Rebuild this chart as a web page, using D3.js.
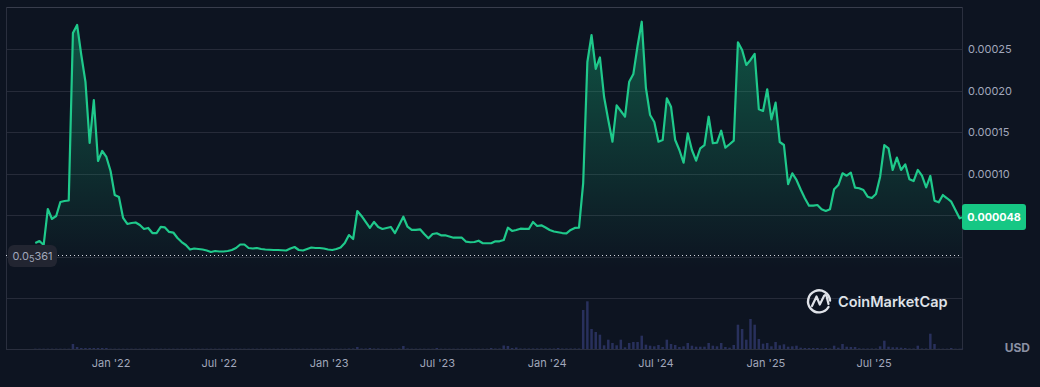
<!DOCTYPE html>
<html><head><meta charset="utf-8">
<style>
html,body{margin:0;padding:0;background:#0d1421;overflow:hidden}
svg{display:block}
text{font-family:Inter,"Noto Sans",sans-serif}
</style>
<script src="https://cdn.jsdelivr.net/npm/d3@7/dist/d3.min.js"></script>
</head><body><div id="chart"></div>
<script>
// Weekly closes in millionths of a USD, starting 2021-08-28
const priceMicroUSD = [
16.8,19.2,14.4,57.7,45.7,49.3,66.1,67.3,67.9,269.2,
278.9,242.8,210.4,137.0,188.7,115.4,127.4,120.2,103.4,74.5,
72.1,46.9,39.7,40.9,41.5,38.5,33.7,34.9,28.8,28.8,
36.1,35.5,30.1,29.4,22.8,18.0,14.4,9.0,10.2,9.6,
9.0,7.8,6.0,7.2,6.6,6.6,7.2,8.4,10.8,15.0,
15.0,10.8,10.2,10.8,9.6,9.0,8.7,8.4,8.4,8.1,
7.8,10.2,12.0,8.4,7.8,9.6,11.4,10.8,10.8,10.2,
9.0,8.4,9.6,11.4,16.8,26.4,21.6,55.3,49.3,42.1,
34.9,42.1,36.1,33.7,34.9,36.1,28.8,38.5,48.4,36.4,
32.5,32.5,33.3,27.6,22.5,27.6,28.5,26.1,26.1,24.6,
23.2,23.2,23.2,18.4,17.7,18.0,19.6,16.5,16.5,16.5,
18.9,18.9,20.4,35.2,31.3,32.5,34.0,33.7,33.7,42.1,
37.3,38.1,35.5,32.5,30.7,29.7,28.8,28.5,32.5,34.9,
35.2,88.9,234.4,266.8,226.0,239.8,192.3,164.7,138.6,182.3,
175.5,168.6,210.7,220.0,253.6,282.8,203.1,170.7,162.3,138.6,
140.6,190.8,180.7,140.6,128.6,113.3,148.7,128.6,115.8,130.7,
134.6,168.6,136.7,137.4,151.8,131.4,135.5,139.8,258.1,248.8,
230.8,236.8,244.0,177.5,175.5,201.6,165.5,185.5,138.2,134.6,
87.7,100.6,92.6,81.1,70.6,61.7,61.7,62.5,57.3,55.3,
57.3,81.4,86.5,100.6,97.7,101.3,83.3,82.6,80.5,72.5,
70.9,75.7,96.5,134.6,130.7,104.6,119.4,104.6,111.4,93.4,
91.3,104.6,97.7,83.8,97.4,67.7,65.7,74.5,70.6,66.5,
56.5,46.5,47.7];
// Weekly volume, relative units
const volumeRel = [
.3,.3,.3,.3,.3,.3,.3,.3,.3,5,
2,1,1,1,1,1,1,1,.3,.3,
.3,.3,.3,.3,.3,.3,.3,.3,.3,.3,
.3,.3,.3,.3,.3,.3,.3,.3,.3,.3,
.3,.3,.3,.3,.3,.3,.3,.3,.3,.3,
.3,.3,.3,.3,.3,.3,.3,.3,.3,.3,
.3,.3,.3,.3,.3,.3,.3,.3,.3,.3,
.3,.3,.3,.3,.3,.5,.5,2,.5,.5,
1,.5,.5,.3,.3,.3,.3,.5,3,.5,
.3,.3,.3,.3,.3,.3,1,.3,.3,.3,
.3,.3,.3,.3,.3,.3,.3,.3,.3,1,
.5,.5,3.5,3,1,1.5,.5,.5,.5,.5,
.5,.5,.5,.5,.5,1,.5,.5,.5,.5,
.5,39,47.7,20,17,14.3,3.7,9.3,6,3.7,
9.3,1.7,6,7,7,13.3,4.3,3.3,2.7,4,
2,9.3,5,4,2,2.7,6,3.3,2.3,2.3,
2.3,6,3.3,2.7,6,2,1.3,4,24.3,20,
9.3,30,24.3,10,5.3,6,2.7,7,3.7,4.7,
2.3,2.7,3.3,1.3,1,1,1,1,.5,1,
.5,3.3,1.3,5,2.3,2,2,.7,.5,.5,
.5,.5,2.7,8.3,2.3,1.7,1.7,1.3,1,.5,
.5,3.3,.5,.5,15.3,5,.3,.3,.3,1,
.3,.3,.3];
const firstWeek = new Date(Date.UTC(2021,7,28));
const lastDate = new Date(Date.UTC(2025,10,26));
const domainStart = new Date(Date.UTC(2021,6,10));
const xTickDates = [[2022,0],[2022,6],[2023,0],[2023,6],[2024,0],[2024,6],[2025,0],[2025,6]].map(d=>new Date(Date.UTC(d[0],d[1],1)));
const xTickLabels = ["Jan '22","Jul '22","Jan '23","Jul '23","Jan '24","Jul '24","Jan '25","Jul '25"];
const yTickValues = [100,150,200,250];
const yGridValues = [-49.5,0,50,100,150,200,250];
const lowLabel = "0.0", lowSub = "5", lowRest = "361";
const lastLabel = "0.000048";
const currency = "USD", brand = "CoinMarketCap";

const W=1040,H=387,L=6,R=962,T=7,B=349;
const dates = priceMicroUSD.map((_,i)=> i<priceMicroUSD.length-1 ? d3.utcDay.offset(firstWeek,i*7) : lastDate);
const x = d3.scaleUtc().domain([domainStart,lastDate]).range([L,R]);
const y = d3.scaleLinear().domain([0,250]).range([257,49]);
const yVol = d3.scaleLinear().domain([0,50]).range([B,B-50]);
const GREEN="#16c784", LINE="#1fc98b", GRID="#262b39", TXT="#a1a7bb";

const svg=d3.select("#chart").append("svg").attr("width",W).attr("height",H);
const defs=svg.append("defs");
const g=defs.append("linearGradient").attr("id","fade").attr("gradientUnits","userSpaceOnUse")
 .attr("x1",0).attr("x2",0).attr("y1",20).attr("y2",268);
g.append("stop").attr("offset",0).attr("stop-color",GREEN).attr("stop-opacity",.36);
g.append("stop").attr("offset",1).attr("stop-color",GREEN).attr("stop-opacity",0);

// grid + frame
svg.append("g").selectAll("line").data(yGridValues).join("line")
 .attr("x1",L).attr("x2",R).attr("y1",d=>Math.round(y(d))+.5).attr("y2",d=>Math.round(y(d))+.5)
 .attr("stroke",GRID);
svg.append("line").attr("x1",L).attr("x2",R).attr("y1",T+.5).attr("y2",T+.5).attr("stroke","#383d4c");
svg.append("line").attr("x1",L).attr("x2",R).attr("y1",B+.5).attr("y2",B+.5).attr("stroke","#2a2f3e");
[L,R].forEach(v=>svg.append("line").attr("x1",v+.5).attr("x2",v+.5).attr("y1",T).attr("y2",B+1).attr("stroke","#2a2f3e"));

// volume
svg.append("g").selectAll("rect").data(volumeRel).join("rect")
 .attr("x",(d,i)=>x(dates[i])-1.25).attr("width",2.5)
 .attr("y",d=>yVol(d)).attr("height",d=>B-yVol(d)).attr("fill","#28305c");

// area + line
svg.append("path").datum(priceMicroUSD)
 .attr("d",d3.area().x((d,i)=>x(dates[i])).y0(268).y1(d=>y(d))).attr("fill","url(#fade)");
svg.append("path").datum(priceMicroUSD)
 .attr("d",d3.line().x((d,i)=>x(dates[i])).y(d=>y(d)))
 .attr("fill","none").attr("stroke",LINE).attr("stroke-width",2.2).attr("stroke-linejoin","round");

// low marker
svg.append("line").attr("x1",L).attr("x2",R).attr("y1",255.5).attr("y2",255.5)
 .attr("stroke","#d5d8e0").attr("stroke-width",1).attr("stroke-dasharray","1 3");
svg.append("rect").attr("x",8).attr("y",245).attr("width",49).attr("height",22).attr("rx",6).attr("fill","#222531");
const low=svg.append("text").attr("x",32.5).attr("y",260).attr("text-anchor","middle").attr("font-size",11).attr("fill",TXT);
low.append("tspan").text(lowLabel);
low.append("tspan").attr("font-size",9).attr("dy",2).text(lowSub);
low.append("tspan").attr("dy",-2).text(lowRest);

// axes
const ax=svg.append("g").attr("transform",`translate(0,${B})`)
 .call(d3.axisBottom(x).tickValues(xTickDates).tickFormat((d,i)=>xTickLabels[i]).tickSize(0).tickPadding(10));
ax.select(".domain").remove();
ax.selectAll("text").attr("fill",TXT).attr("font-size",11).attr("font-family","Inter");
const ay=svg.append("g").attr("transform",`translate(${R},0)`)
 .call(d3.axisRight(y).tickValues(yTickValues).tickFormat(d=>(d*1e-6).toFixed(5)).tickSize(0).tickPadding(6));
ay.select(".domain").remove();
ay.selectAll("text").attr("fill",TXT).attr("font-size",11).attr("font-family","Inter");

// last price tag
svg.append("rect").attr("x",962).attr("y",204).attr("width",64).attr("height",26).attr("rx",3).attr("fill",GREEN);
svg.append("text").attr("x",994).attr("y",221).attr("text-anchor","middle").attr("font-size",10.8).attr("font-weight",700).attr("fill","#fff").text(lastLabel);

svg.append("text").attr("x",1030).attr("y",352).attr("text-anchor","end").attr("font-size",12).attr("font-weight",700).attr("fill","#8a90a3").text(currency);

// watermark
const wm=svg.append("g").attr("fill","none").attr("stroke","#dfe2e8").attr("stroke-width",2.4).attr("stroke-linecap","round").attr("stroke-linejoin","round");
wm.append("path").attr("d","M828.5 307 A11 11 0 1 1 830 300.5");
wm.append("path").attr("d","M812 306 L816.5 296.5 L819.8 304.5 L824 296 C825.5 294 827 296 827 298 L828.5 304").attr("stroke-width",2.2);
svg.append("text").attr("x",838).attr("y",307).attr("font-size",14.5).attr("font-weight",600).attr("fill","#dfe2e8").text(brand);
</script></body></html>
